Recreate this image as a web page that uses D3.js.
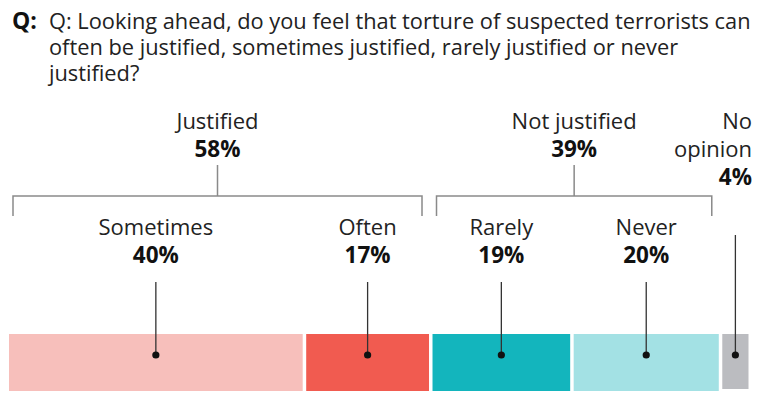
<!DOCTYPE html>
<html>
<head>
<meta charset="utf-8">
<script src="https://cdn.jsdelivr.net/npm/d3@7"></script>
<style>
	body { margin: 0; background: #fff; }
	svg { display: block; font-family: "Open Sans", sans-serif; }
	.q { font-weight: 700; font-size: 23px; fill: #111; }
	.title { font-size: 21.8px; fill: #222; }
	.lab { font-size: 22px; fill: #222; }
	.pct { font-size: 22.5px; font-weight: 700; fill: #111; }
	.bracket { fill: none; stroke: #8a8a8a; stroke-width: 1.5; }
	.leader { stroke: #333; stroke-width: 1.3; }
</style>
</head>
<body>
<script>
// answers, left to right
var answers = ['Sometimes', 'Often', 'Rarely', 'Never', 'No opinion'];
var shares  = [40, 17, 19, 20, 4];
var colors  = ['#f7bfbb', '#f15b50', '#13b5bd', '#a3e1e4', '#bbbcc0'];

// groups spanning answers (first, last index)
var groupNames  = ['Justified', 'Not justified'];
var groupShares = [58, 39];
var groupSpans  = [[0, 1], [2, 3]];

var titleLines = [
	'Q: Looking ahead, do you feel that torture of suspected terrorists can',
	'often be justified, sometimes justified, rarely justified or never',
	'justified?'
];

var width = 764, height = 398;

var svg = d3.select('body').append('svg')
	.attr('width', width)
	.attr('height', height);

// title
svg.append('text')
	.attr('class', 'q')
	.attr('x', 12)
	.attr('y', 29)
	.text('Q:');

svg.append('text')
	.attr('class', 'title')
	.selectAll('tspan')
	.data(titleLines)
	.enter()
	.append('tspan')
	.attr('x', 49)
	.attr('y', (d, i) => 29 + i * 26)
	.text(d => d);

var x = d3.scaleLinear()
	.domain([0, 100])
	.range([9, 752]);

var gap = 3.5;
var barTop = 334, barH = 57, dotY = 355;

var cum = d3.cumsum(shares);
var bars = answers.map(function(a, i) {
	var start = cum[i] - shares[i];
	var x0 = x(start), x1 = x(cum[i]) - gap;
	return {name: a, value: shares[i], color: colors[i], x0: x0, x1: x1, cx: (x0 + x1) / 2};
});

// bars
svg.selectAll('rect.bar')
	.data(bars)
	.enter()
	.append('rect')
	.attr('class', 'bar')
	.attr('x', d => d.x0)
	.attr('y', barTop)
	.attr('width', d => d.x1 - d.x0)
	.attr('height', (d, i) => i == bars.length - 1 ? barH - 2 : barH)
	.attr('fill', d => d.color);

// answer labels (all but the last)
var labelled = bars.slice(0, 4);

svg.selectAll('text.lab')
	.data(labelled)
	.enter()
	.append('text')
	.attr('class', 'lab')
	.attr('x', d => d.cx)
	.attr('y', 235)
	.attr('text-anchor', 'middle')
	.text(d => d.name);

svg.selectAll('text.pct')
	.data(labelled)
	.enter()
	.append('text')
	.attr('class', 'pct')
	.attr('x', d => d.cx)
	.attr('y', 263)
	.attr('text-anchor', 'middle')
	.text(d => d.value + '%');

svg.selectAll('line.leader')
	.data(labelled)
	.enter()
	.append('line')
	.attr('class', 'leader')
	.attr('x1', d => d.cx)
	.attr('x2', d => d.cx)
	.attr('y1', 282)
	.attr('y2', dotY);

// no opinion, labelled above on the right
var last = bars[bars.length - 1];
var noOp = svg.append('text')
	.attr('text-anchor', 'end');
noOp.append('tspan').attr('class', 'lab').attr('x', 752).attr('y', 129).text('No');
noOp.append('tspan').attr('class', 'lab').attr('x', 752).attr('y', 157).text('opinion');
noOp.append('tspan').attr('class', 'pct').attr('x', 752).attr('y', 185).text(last.value + '%');

svg.append('line')
	.attr('class', 'leader')
	.attr('x1', last.cx)
	.attr('x2', last.cx)
	.attr('y1', 235)
	.attr('y2', dotY);

svg.selectAll('circle.dot')
	.data(bars)
	.enter()
	.append('circle')
	.attr('class', 'dot')
	.attr('cx', d => d.cx)
	.attr('cy', dotY)
	.attr('r', 3.6)
	.attr('fill', '#111');

// group brackets
var groups = groupNames.map(function(g, i) {
	var a = bars[groupSpans[i][0]], b = bars[groupSpans[i][1]];
	var l = a.x0 + 4, r = b.x1 - 7;
	return {name: g, value: groupShares[i], l: l, r: r, c: (l + r) / 2};
});

svg.selectAll('path.bracket')
	.data(groups)
	.enter()
	.append('path')
	.attr('class', 'bracket')
	.attr('d', d => `M${d.l},216V196H${d.r}V216M${d.c},196V165`);

svg.selectAll('text.gname')
	.data(groups)
	.enter()
	.append('text')
	.attr('class', 'lab gname')
	.attr('x', d => d.c)
	.attr('y', 129)
	.attr('text-anchor', 'middle')
	.text(d => d.name);

svg.selectAll('text.gpct')
	.data(groups)
	.enter()
	.append('text')
	.attr('class', 'pct gpct')
	.attr('x', d => d.c)
	.attr('y', 157)
	.attr('text-anchor', 'middle')
	.text(d => d.value + '%');
</script>
</body>
</html>
